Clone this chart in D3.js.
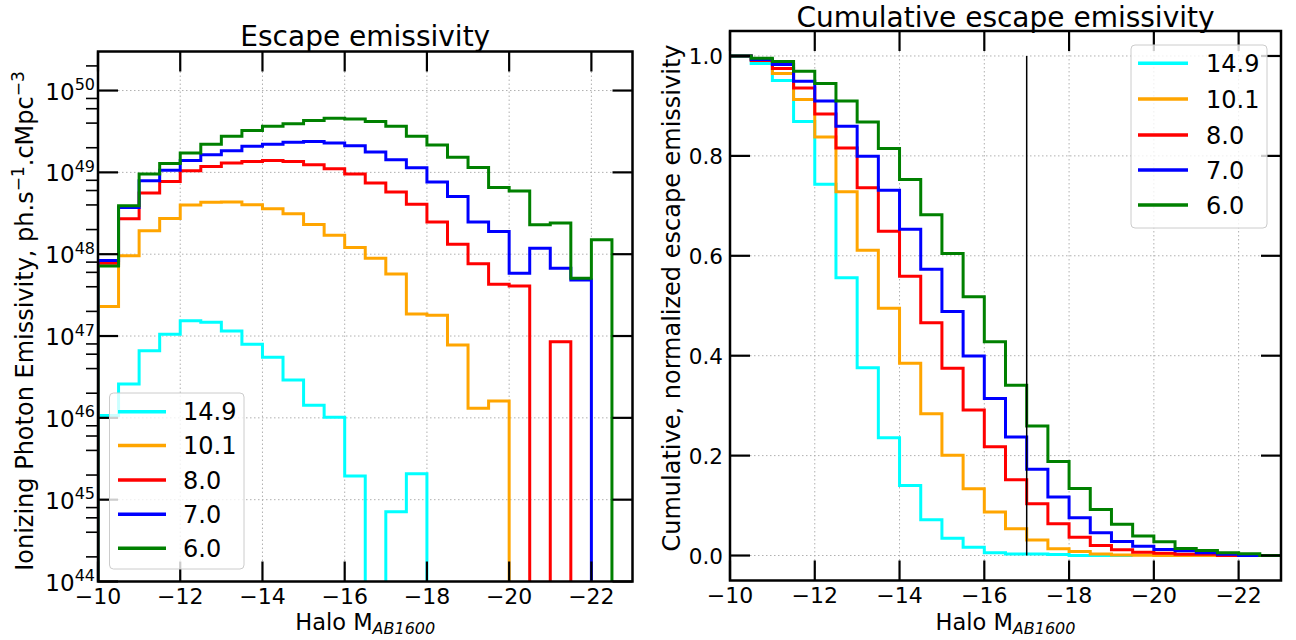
<!DOCTYPE html>
<html><head><meta charset="utf-8">
<script src="https://cdn.jsdelivr.net/npm/d3@7"></script>
<style>
body{margin:0;background:#fff;}
text{font-family:"DejaVu Sans",sans-serif;fill:#000;}
</style></head><body>
<svg id="chart" width="1296" height="640"></svg>
<script>
// ---------------- data ----------------
const binEdges = [-10,-10.5,-11,-11.5,-12,-12.5,-13,-13.5,-14,-14.5,-15,-15.5,-16,-16.5,-17,-17.5,-18,-18.5,-19,-19.5,-20,-20.5,-21,-21.5,-22,-22.5,-23];
const seriesLabels = ["14.9","10.1","8.0","7.0","6.0"];
const seriesColors = ["#00ffff","#ffa500","#ff0000","#0000ff","#008000"];

// Escape emissivity per bin (ph/s/cMpc^3), one value per bin
const emisZ149 = [1.07e46,2.60e46,6.62e46,1.05e47,1.54e47,1.47e47,1.15e47,7.91e46,5.50e46,2.90e46,1.43e46,1.02e46,1.95e45,0,7.14e44,2.07e45,0,0,0,0,0,0,0,0,0,0];
const emisZ101 = [2.29e47,9.55e47,1.93e48,2.74e48,3.98e48,4.30e48,4.34e48,4.02e48,3.59e48,3.12e48,2.31e48,1.71e48,1.21e48,8.93e47,5.74e47,1.86e47,1.80e47,7.76e46,1.31e46,1.61e46,0,0,0,0,0,0];
const emisZ80  = [7.76e47,2.71e48,5.58e48,7.76e48,1.05e49,1.18e49,1.30e49,1.36e49,1.40e49,1.36e49,1.24e49,1.11e49,9.55e48,7.40e48,5.74e48,4.09e48,2.47e48,1.32e48,7.62e47,4.30e47,4.09e47,0,8.51e46,0,0,0];
const emisZ70  = [8.36e47,3.72e48,7.91e48,1.06e49,1.40e49,1.64e49,1.84e49,2.08e49,2.20e49,2.33e49,2.38e49,2.29e49,2.12e49,1.77e49,1.43e49,1.14e49,7.62e48,5.08e48,2.47e48,1.90e48,5.85e47,1.18e48,6.75e47,4.85e47,0,0];
const emisZ60  = [7.19e47,3.91e48,9.55e48,1.28e49,1.73e49,2.20e49,2.76e49,3.24e49,3.66e49,3.94e49,4.30e49,4.58e49,4.50e49,4.17e49,3.66e49,2.76e49,2.16e49,1.53e49,1.15e49,6.55e48,5.90e48,2.29e48,2.40e48,5.08e47,1.50e48,0];

// Cumulative normalized escape emissivity per bin
const cumZ149 = [1.0,0.985,0.951,0.869,0.743,0.556,0.376,0.236,0.140,0.0716,0.0348,0.0167,0.0054,0.003,0.003,0.0022,0,0,0];
const cumZ101 = [1.0,0.993,0.965,0.913,0.838,0.728,0.611,0.495,0.385,0.284,0.2005,0.1335,0.087,0.0535,0.031,0.0134,0.0083,0.0032,0.0011,0.0005,0,0,0];
const cumZ80  = [1.0,0.9907,0.9747,0.936,0.884,0.816,0.736,0.649,0.5593,0.466,0.3747,0.2913,0.2176,0.1518,0.1037,0.0635,0.0368,0.020,0.0114,0.0067,0.0047,0.0025,0.0025,0];
const cumZ70  = [1.0,0.9927,0.9827,0.9493,0.91,0.8593,0.7993,0.7313,0.6533,0.5733,0.4887,0.3993,0.3144,0.2375,0.1726,0.117,0.0756,0.0455,0.0281,0.0187,0.012,0.0094,0.0054,0.0027,0];
const cumZ60  = [1.0,0.9953,0.9887,0.9693,0.9447,0.91,0.868,0.8147,0.7527,0.682,0.6047,0.518,0.428,0.3411,0.2595,0.188,0.1342,0.092,0.0625,0.039,0.0274,0.014,0.01,0.0057,0.0033,0];

const xTickValues = [-10,-12,-14,-16,-18,-20,-22];
const xTickLabels = ["\u221210","\u221212","\u221214","\u221216","\u221218","\u221220","\u221222"];
const logTickValues = [1e44,1e45,1e46,1e47,1e48,1e49,1e50];
const logTickExps = ["44","45","46","47","48","49","50"];
const cumTickValues = [0,0.2,0.4,0.6,0.8,1.0];
const cumTickLabels = ["0.0","0.2","0.4","0.6","0.8","1.0"];
const markerX = -17;

const emisSeries = [emisZ149,emisZ101,emisZ80,emisZ70,emisZ60];
const cumSeries = [cumZ149,cumZ101,cumZ80,cumZ70,cumZ60];

// ---------------- layout ----------------
const svg = d3.select("#chart");
svg.append("rect").attr("width",1296).attr("height",640).attr("fill","#fff");

const L = {x0:98, x1:632.5, y0:51.5, y1:581.5};
const R = {x0:730, x1:1281, y0:31, y1:580.5};

const xL = d3.scaleLinear().domain([-10,-23]).range([L.x0,L.x1]);
const yL = d3.scaleLog().domain([1e44,3e50]).range([L.y1,L.y0]);
const xR = d3.scaleLinear().domain([-10,-23]).range([R.x0,R.x1]);
const yR = d3.scaleLinear().domain([-0.05,1.05]).range([R.y1,R.y0]);

const defs = svg.append("defs");
[["clipL",L],["clipR",R]].forEach(([id,P])=>{
  defs.append("clipPath").attr("id",id).append("rect")
    .attr("x",P.x0).attr("y",P.y0).attr("width",P.x1-P.x0).attr("height",P.y1-P.y0);
});

const gridStyle = g => g.attr("stroke","#b0b0b0").attr("stroke-width",1).attr("stroke-dasharray","1.5,2.5").attr("fill","none");
const MAJ = 20, TW = 2.2, SW = 2.5;
const TICKFS = 22, LABFS = 22.5, YLABFS = 24, TITLEFS = 28, LEGFS = 24;

// ---------- LEFT PANEL ----------
const gL = svg.append("g");
xTickValues.forEach(v=>{
  gL.append("line").attr("x1",xL(v)).attr("x2",xL(v)).attr("y1",L.y0).attr("y2",L.y1).call(gridStyle);
});
logTickValues.forEach(v=>{
  gL.append("line").attr("x1",L.x0).attr("x2",L.x1).attr("y1",yL(v)).attr("y2",yL(v)).call(gridStyle);
});
const lineGen = d3.line().x(d=>d[0]).y(d=>d[1]);
const gLs = gL.append("g").attr("clip-path","url(#clipL)");
emisSeries.forEach((vals,i)=>{
  const yy = v => v>0 ? yL(v) : L.y1+10;
  const pts = [[xL(binEdges[0]), L.y1+10]];
  vals.forEach((v,k)=>{
    pts.push([xL(binEdges[k]), yy(v)]);
    pts.push([xL(binEdges[k+1]), yy(v)]);
  });
  pts.push([xL(binEdges[vals.length]), L.y1+10]);
  gLs.append("path").attr("d",lineGen(pts)).attr("fill","none")
    .attr("stroke",seriesColors[i]).attr("stroke-width",3);
});
xTickValues.forEach((v,i)=>{
  const x = xL(v);
  gL.append("line").attr("x1",x).attr("x2",x).attr("y1",L.y1).attr("y2",L.y1-MAJ).attr("stroke","#000").attr("stroke-width",TW);
  gL.append("line").attr("x1",x).attr("x2",x).attr("y1",L.y0).attr("y2",L.y0+MAJ).attr("stroke","#000").attr("stroke-width",TW);
  gL.append("text").attr("x",x).attr("y",603.5).attr("text-anchor","middle").attr("font-size",TICKFS).text(xTickLabels[i]);
});
logTickValues.forEach((v,i)=>{
  const y = yL(v);
  gL.append("line").attr("x1",L.x0).attr("x2",L.x0+MAJ).attr("y1",y).attr("y2",y).attr("stroke","#000").attr("stroke-width",TW);
  gL.append("line").attr("x1",L.x1).attr("x2",L.x1-MAJ).attr("y1",y).attr("y2",y).attr("stroke","#000").attr("stroke-width",TW);
  const t = gL.append("text").attr("x",L.x0-3).attr("y",y+9).attr("text-anchor","end").attr("font-size",23);
  t.append("tspan").text("10");
  t.append("tspan").attr("font-size",16).attr("dy",-9.5).text(logTickExps[i]);
});
for(let e=44;e<=50;e++){
  [2,4,6,8].forEach(m=>{
    const v = m*Math.pow(10,e);
    if(v>yL.domain()[1]) return;
    const y = yL(v);
    gL.append("line").attr("x1",L.x0-12).attr("x2",L.x0).attr("y1",y).attr("y2",y).attr("stroke","#000").attr("stroke-width",1.6);
  });
}
gL.append("rect").attr("x",L.x0).attr("y",L.y0).attr("width",L.x1-L.x0).attr("height",L.y1-L.y0)
  .attr("fill","none").attr("stroke","#000").attr("stroke-width",SW);
gL.append("text").attr("x",(L.x0+L.x1)/2).attr("y",46).attr("text-anchor","middle").attr("font-size",TITLEFS).text("Escape emissivity");
const xlabL = gL.append("text").attr("x",(L.x0+L.x1)/2).attr("y",630).attr("text-anchor","middle").attr("font-size",LABFS);
xlabL.append("tspan").text("Halo M");
xlabL.append("tspan").attr("font-size",16).attr("font-style","italic").attr("dy",4).text("AB1600");
const ylabL = gL.append("text").attr("transform",`translate(33,321) rotate(-90)`).attr("text-anchor","middle").attr("font-size",YLABFS);
ylabL.append("tspan").text("Ionizing Photon Emissivity, ph.s");
ylabL.append("tspan").attr("font-size",17).attr("dy",-9).text("\u22121");
ylabL.append("tspan").attr("dy",9).text(".cMpc");
ylabL.append("tspan").attr("font-size",17).attr("dy",-9).text("\u22123");

// ---------- RIGHT PANEL ----------
const gR = svg.append("g");
xTickValues.forEach(v=>{
  gR.append("line").attr("x1",xR(v)).attr("x2",xR(v)).attr("y1",R.y0).attr("y2",R.y1).call(gridStyle);
});
cumTickValues.forEach(v=>{
  gR.append("line").attr("x1",R.x0).attr("x2",R.x1).attr("y1",yR(v)).attr("y2",yR(v)).call(gridStyle);
});
const gRs = gR.append("g").attr("clip-path","url(#clipR)");
cumSeries.forEach((vals,i)=>{
  const pts = [];
  vals.forEach((v,k)=>{
    pts.push([xR(binEdges[k]), yR(v)]);
    pts.push([xR(binEdges[k+1]), yR(v)]);
  });
  gRs.append("path").attr("d",lineGen(pts)).attr("fill","none")
    .attr("stroke",seriesColors[i]).attr("stroke-width",3);
});
gR.append("line").attr("x1",xR(markerX)).attr("x2",xR(markerX)).attr("y1",yR(0)).attr("y2",yR(1))
  .attr("stroke","#000").attr("stroke-width",1.5);
xTickValues.forEach((v,i)=>{
  const x = xR(v);
  gR.append("line").attr("x1",x).attr("x2",x).attr("y1",R.y1).attr("y2",R.y1-MAJ).attr("stroke","#000").attr("stroke-width",TW);
  gR.append("line").attr("x1",x).attr("x2",x).attr("y1",R.y0).attr("y2",R.y0+MAJ).attr("stroke","#000").attr("stroke-width",TW);
  gR.append("text").attr("x",x).attr("y",602.5).attr("text-anchor","middle").attr("font-size",TICKFS).text(xTickLabels[i]);
});
cumTickValues.forEach((v,i)=>{
  const y = yR(v);
  gR.append("line").attr("x1",R.x0).attr("x2",R.x0+MAJ).attr("y1",y).attr("y2",y).attr("stroke","#000").attr("stroke-width",TW);
  gR.append("line").attr("x1",R.x1).attr("x2",R.x1-MAJ).attr("y1",y).attr("y2",y).attr("stroke","#000").attr("stroke-width",TW);
  gR.append("text").attr("x",R.x0-7).attr("y",y+8).attr("text-anchor","end").attr("font-size",21.5).text(cumTickLabels[i]);
});
gR.append("rect").attr("x",R.x0).attr("y",R.y0).attr("width",R.x1-R.x0).attr("height",R.y1-R.y0)
  .attr("fill","none").attr("stroke","#000").attr("stroke-width",SW);
gR.append("text").attr("x",(R.x0+R.x1)/2).attr("y",26.5).attr("text-anchor","middle").attr("font-size",TITLEFS).text("Cumulative escape emissivity");
const xlabR = gR.append("text").attr("x",(R.x0+R.x1)/2).attr("y",630).attr("text-anchor","middle").attr("font-size",LABFS);
xlabR.append("tspan").text("Halo M");
xlabR.append("tspan").attr("font-size",16).attr("font-style","italic").attr("dy",4).text("AB1600");
gR.append("text").attr("transform",`translate(680,298) rotate(-90)`).attr("text-anchor","middle").attr("font-size",YLABFS)
  .text("Cumulative, normalized escape emissivity");

// ---------- legends ----------
function legend(g, box, lineX0, lineX1, textX, ys){
  g.append("rect").attr("x",box.x).attr("y",box.y).attr("width",box.w).attr("height",box.h)
    .attr("rx",4).attr("fill","#fff").attr("fill-opacity",0.8).attr("stroke","#cccccc").attr("stroke-width",1);
  seriesLabels.forEach((lab,i)=>{
    g.append("line").attr("x1",lineX0).attr("x2",lineX1).attr("y1",ys[i]).attr("y2",ys[i])
      .attr("stroke",seriesColors[i]).attr("stroke-width",3.5);
    g.append("text").attr("x",textX).attr("y",ys[i]+8.7).attr("font-size",LEGFS).text(lab);
  });
}
legend(svg.append("g"), {x:109.5,y:393,w:134.5,h:176}, 118, 166, 183, [411.7,445.5,480,514.3,548.3]);
legend(svg.append("g"), {x:1131,y:45,w:136,h:183}, 1138, 1188, 1206, [63.3,99,135,170,205]);
</script>
</body></html>
